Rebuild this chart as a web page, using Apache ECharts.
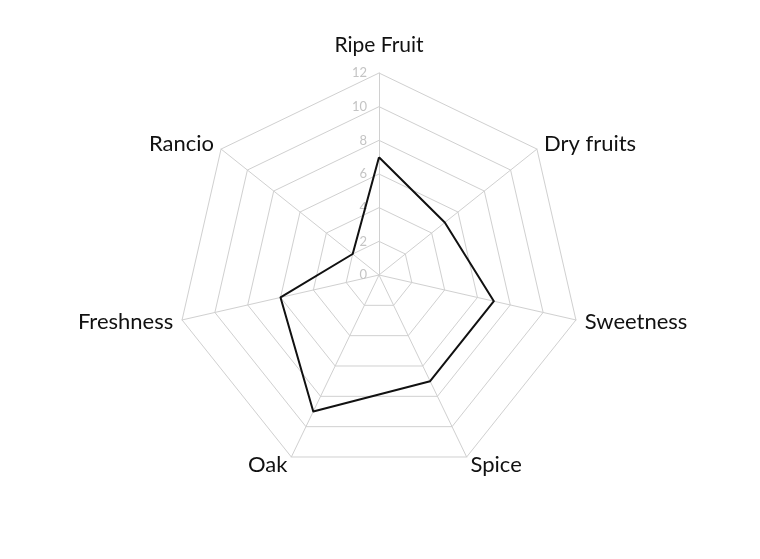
<!doctype html>
<html lang="en">
<head>
    <meta charset="UTF-8">
    <title>Tasting profile</title>
    <script src="https://cdn.jsdelivr.net/npm/echarts@6/dist/echarts.min.js"></script>
    <style>
        html, body { margin: 0; padding: 0; background: #fff; }
        #main { width: 760px; height: 559px; }
    </style>
</head>
<body>
<div id="main"></div>
<script>
    // listed clockwise from the top
    var attributes = ['Ripe Fruit', 'Dry fruits', 'Sweetness', 'Spice', 'Oak', 'Freshness', 'Rancio'];
    var scores = [7, 5, 7, 7, 9, 6, 2];
    var scaleMax = 12;

    var labelFont = 'Lato, "Open Sans", sans-serif';

    // echarts lays radar axes out counter-clockwise, so keep the first one on top
    // and reverse the rest to get the clockwise order
    function clockwise(arr) {
        return [arr[0]].concat(arr.slice(1).reverse());
    }

    var myChart = echarts.init(document.getElementById('main'), null, { renderer: 'canvas' });

    var option = {
        backgroundColor: '#fff',
        animation: false,
        radar: [
            {
                center: [379, 275],
                radius: 202,
                startAngle: 90,
                shape: 'polygon',
                splitNumber: 6,
                indicator: clockwise(attributes).map(function (name) {
                    return { name: name, min: 0, max: scaleMax };
                }),
                axisName: {
                    color: '#111',
                    fontFamily: labelFont,
                    fontSize: 22,
                    formatter: function (name) {
                        return name === attributes[0] ? '{top|' + name + '}' : name;
                    },
                    rich: {
                        top: {
                            fontFamily: labelFont,
                            fontSize: 21,
                            color: '#111',
                            padding: [0, 0, 8, 0]
                        }
                    }
                },
                nameGap: 9,
                axisLine: { lineStyle: { color: '#d0d0d0', width: 1 } },
                splitLine: { lineStyle: { color: '#d0d0d0', width: 1 } },
                splitArea: { show: false },
                axisTick: { show: false },
                axisLabel: { show: false }
            },
            {
                // single upright axis, only used to carry the scale labels
                center: [379, 275],
                radius: 202,
                startAngle: 90,
                shape: 'polygon',
                splitNumber: 6,
                indicator: [{ name: '', min: 0, max: scaleMax }],
                axisName: { show: false },
                axisLine: { show: false },
                splitLine: { show: false },
                splitArea: { show: false },
                axisTick: { show: false },
                axisLabel: {
                    show: true,
                    color: '#c4c4c4',
                    fontFamily: labelFont,
                    fontSize: 13,
                    margin: 12
                }
            }
        ],
        series: [
            {
                type: 'radar',
                radarIndex: 0,
                symbol: 'none',
                lineStyle: { color: '#111', width: 2 },
                data: [{ value: clockwise(scores), name: 'Profile' }]
            }
        ]
    };

    myChart.setOption(option);
</script>
</body>
</html>
